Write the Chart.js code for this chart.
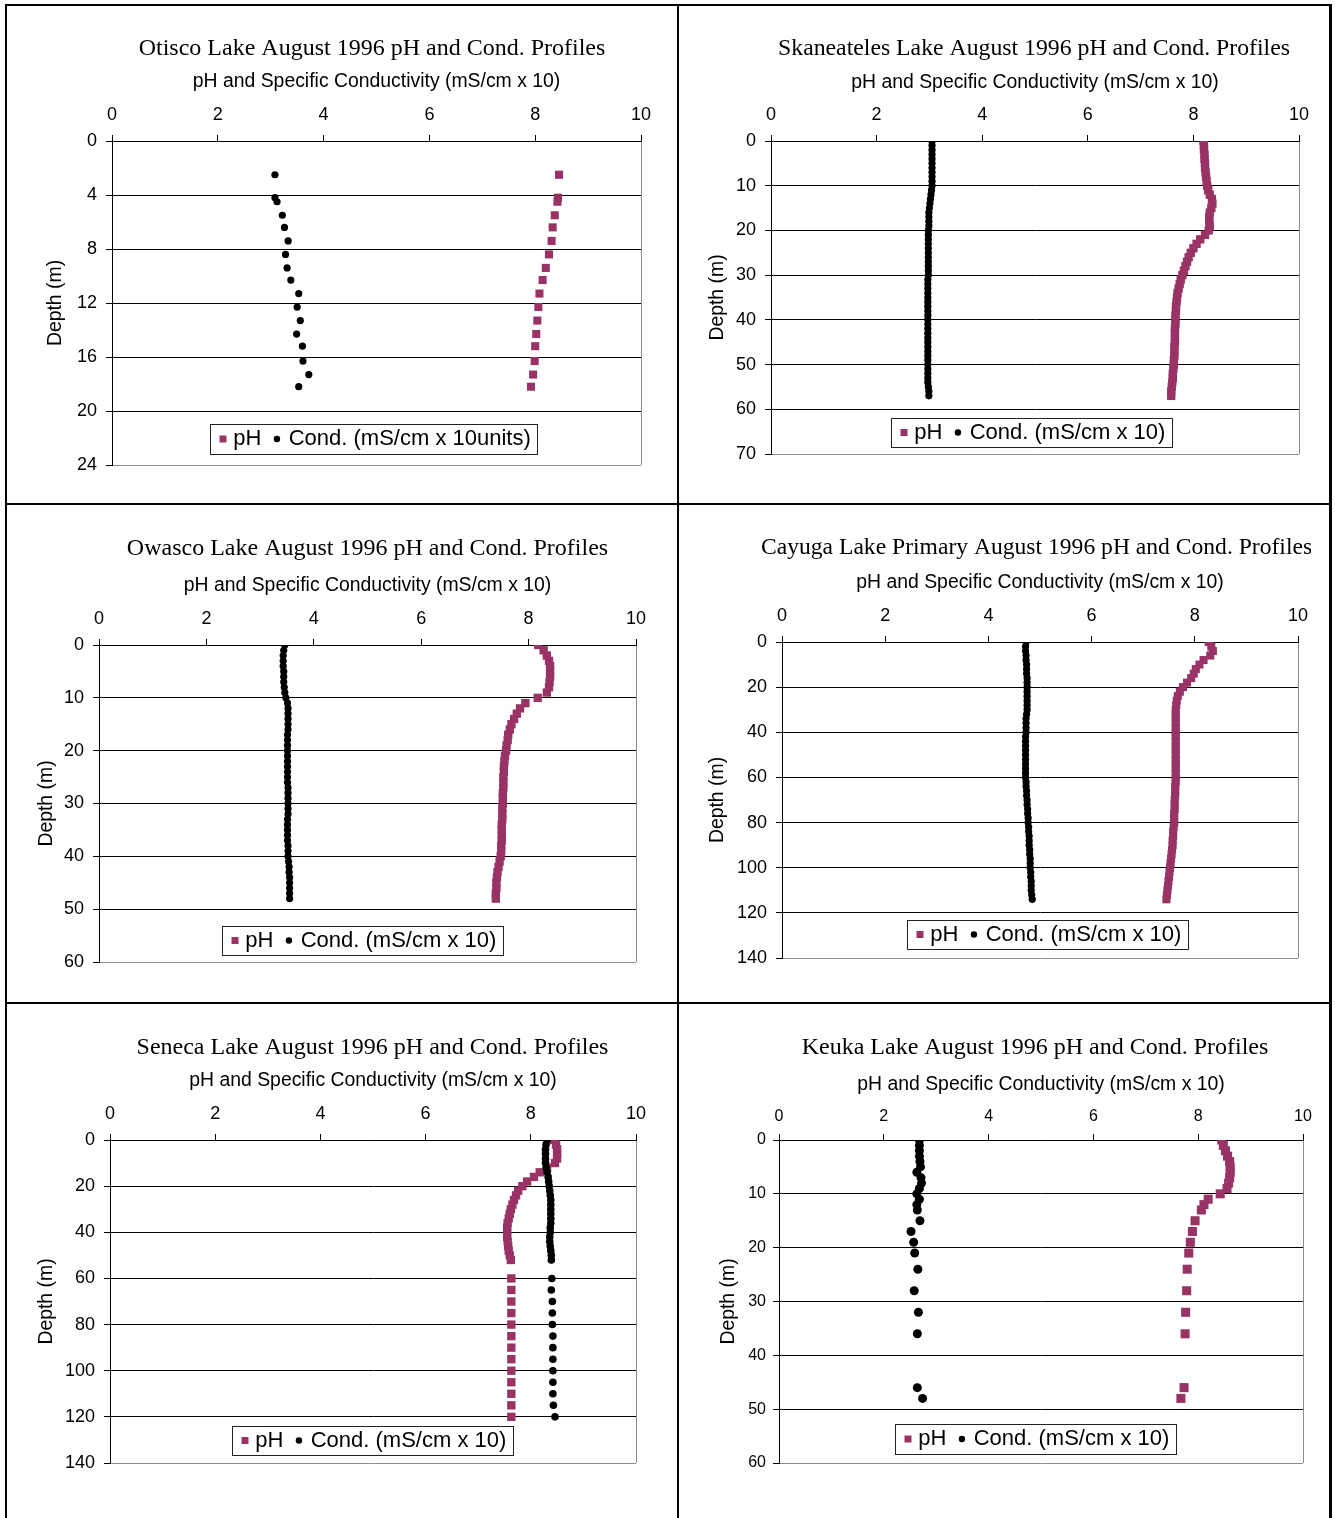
<!DOCTYPE html>
<html><head><meta charset="utf-8">
<script src="https://cdn.jsdelivr.net/npm/chart.js@4.4.1/dist/chart.umd.min.js"></script>
<style>
html,body{margin:0;padding:0;background:#fff;}
body{width:1335px;height:1518px;position:relative;overflow:hidden;}
.ln{position:absolute;background:#000;z-index:5;}
</style></head><body>
<div class="ln" style="left:5px;top:4px;width:1327px;height:2px"></div>
<div class="ln" style="left:5px;top:4px;width:2px;height:1514px"></div>
<div class="ln" style="left:677px;top:4px;width:2px;height:1514px"></div>
<div class="ln" style="left:1329px;top:4px;width:3px;height:1514px"></div>
<div class="ln" style="left:5px;top:503px;width:1327px;height:2px"></div>
<div class="ln" style="left:5px;top:1002px;width:1327px;height:2px"></div>
<script>
// ---------------- DATA ----------------
const chartTitles = [
  'Otisco Lake August 1996 pH and Cond. Profiles',
  'Skaneateles Lake August 1996 pH and Cond. Profiles',
  'Owasco Lake August 1996 pH and Cond. Profiles',
  'Cayuga Lake Primary August 1996 pH and Cond. Profiles',
  'Seneca Lake August 1996 pH and Cond. Profiles',
  'Keuka Lake August 1996 pH and Cond. Profiles'
];
const xAxisTitle = 'pH and Specific Conductivity (mS/cm x 10)';
const yAxisTitle = 'Depth (m)';
const phLabel = 'pH';
const condLabels = ['Cond. (mS/cm x 10units)', 'Cond. (mS/cm x 10)', 'Cond. (mS/cm x 10)', 'Cond. (mS/cm x 10)', 'Cond. (mS/cm x 10)', 'Cond. (mS/cm x 10)'];
const xTickValues = [0, 2, 4, 6, 8, 10];
const depthAxisMax = [24, 70, 60, 140, 140, 60];
const depthAxisStep = [4, 10, 10, 20, 20, 10];

const otiscoDepth = [2.5,4.2,4.5,5.5,6.4,7.4,8.4,9.4,10.3,11.3,12.3,13.3,14.3,15.2,16.3,17.3,18.2];
const otiscoPH   = [8.45,8.43,8.42,8.37,8.33,8.31,8.26,8.20,8.14,8.08,8.06,8.04,8.02,8.00,7.99,7.96,7.92];
const otiscoCond = [3.08,3.08,3.12,3.22,3.26,3.33,3.28,3.31,3.38,3.53,3.50,3.56,3.49,3.60,3.61,3.72,3.53];

const skanDepth = [0,1,2,3,4,5,6,7,8,9,10,11,12,13,14,15,16,17,18,19,20,21,22,23,24,25,26,27,28,29,30,31,32,33,34,35,36,37,38,39,40,41,42,43,44,45,46,47,48,49,50,51,52,53,54,55,56,57];
const skanPH = [8.19,8.20,8.20,8.21,8.21,8.22,8.22,8.23,8.24,8.25,
  8.26,8.28,8.31,8.35,8.36,8.34,8.31,8.30,8.30,8.31,
  8.29,8.22,8.13,8.06,8.00,7.95,7.91,7.88,7.85,7.82,
  7.79,7.76,7.74,7.72,7.70,7.69,7.68,7.67,7.67,7.66,
  7.66,7.66,7.65,7.65,7.65,7.65,7.64,7.64,7.64,7.63,
  7.63,7.62,7.61,7.61,7.60,7.59,7.58,7.58];
const skanCond = [3.05,3.05,3.05,3.05,3.05,3.05,3.05,3.05,3.05,3.05,
  3.05,3.04,3.03,3.02,3.01,3.00,2.99,2.99,2.99,2.99,
  2.98,2.98,2.98,2.98,2.98,2.98,2.98,2.98,2.98,2.98,
  2.98,2.97,2.97,2.97,2.97,2.97,2.97,2.97,2.97,2.97,
  2.97,2.97,2.97,2.97,2.97,2.97,2.97,2.97,2.97,2.97,
  2.97,2.97,2.97,2.97,2.97,2.98,2.99,2.99];

const owascoDepth = [0,1,2,3,4,5,6,7,8,9,10,11,12,13,14,15,16,17,18,19,20,21,22,23,24,25,26,27,28,29,30,31,32,33,34,35,36,37,38,39,40,41,42,43,44,45,46,47,48];
const owascoPH = [8.18,8.28,8.34,8.38,8.40,8.40,8.40,8.39,8.38,8.34,
  8.17,7.94,7.84,7.78,7.73,7.68,7.65,7.62,7.61,7.59,
  7.58,7.56,7.55,7.54,7.54,7.53,7.53,7.53,7.52,7.52,
  7.52,7.51,7.51,7.51,7.50,7.50,7.50,7.50,7.49,7.49,
  7.48,7.46,7.44,7.42,7.41,7.40,7.40,7.39,7.39];
const owascoCond = [3.46,3.44,3.43,3.43,3.43,3.44,3.44,3.44,3.45,3.46,
  3.48,3.51,3.52,3.52,3.52,3.52,3.52,3.51,3.51,3.51,
  3.51,3.51,3.51,3.51,3.51,3.51,3.51,3.52,3.52,3.52,
  3.52,3.52,3.52,3.51,3.51,3.51,3.51,3.51,3.52,3.52,
  3.52,3.53,3.54,3.54,3.55,3.55,3.55,3.55,3.55];

const cayugaDepth = [0,2,4,6,8,10,12,14,16,18,20,22,24,26,28,30,32,34,36,38,40,42,44,46,48,50,52,54,56,58,60,62,64,66,68,70,72,74,76,78,80,82,84,86,88,90,92,94,96,98,100,102,104,106,108,110,112,114];
const cayugaPH = [8.27,8.32,8.35,8.30,8.17,8.09,8.02,7.98,7.93,7.85,
  7.77,7.71,7.67,7.65,7.64,7.63,7.63,7.63,7.63,7.63,
  7.63,7.63,7.63,7.63,7.63,7.63,7.63,7.63,7.63,7.63,
  7.63,7.63,7.62,7.62,7.62,7.61,7.61,7.61,7.60,7.60,
  7.60,7.59,7.58,7.58,7.57,7.57,7.56,7.55,7.54,7.53,
  7.52,7.51,7.50,7.49,7.48,7.47,7.46,7.45];
const cayugaCond = [4.73,4.72,4.72,4.73,4.73,4.74,4.74,4.74,4.75,4.75,
  4.75,4.75,4.75,4.75,4.75,4.75,4.74,4.73,4.73,4.73,
  4.73,4.72,4.72,4.72,4.72,4.72,4.72,4.72,4.72,4.72,
  4.72,4.73,4.73,4.74,4.74,4.75,4.75,4.76,4.76,4.77,
  4.77,4.78,4.78,4.79,4.79,4.79,4.80,4.80,4.81,4.81,
  4.81,4.82,4.82,4.83,4.83,4.83,4.84,4.85];

const senecaDepth = [0,2,4,6,8,10,12,14,16,18,20,22,24,26,28,30,32,34,36,38,40,42,44,46,48,50,52,60,65,70,75,80,85,90,95,100,105,110,115,120];
const senecaPH = [8.44,8.48,8.50,8.50,8.50,8.46,8.31,8.17,8.06,7.93,
  7.84,7.76,7.72,7.68,7.65,7.62,7.60,7.58,7.56,7.55,
  7.55,7.55,7.56,7.57,7.58,7.60,7.62,
  7.63,7.63,7.63,7.63,7.63,7.63,7.63,7.63,7.63,7.63,7.63,7.63,7.63];
const senecaCond = [8.31,8.29,8.28,8.28,8.28,8.28,8.29,8.31,8.33,8.34,
  8.35,8.36,8.37,8.38,8.38,8.38,8.38,8.38,8.38,8.37,
  8.37,8.36,8.36,8.37,8.38,8.39,8.39,
  8.40,8.39,8.41,8.41,8.41,8.42,8.42,8.42,8.42,8.42,8.42,8.43,8.46];

const keukaDepth = [0,1,2,3,4,5,6,7,8,9,10,11,12,13,15,17,19,21,24,28,32,36,46,48];
const keukaPH = [8.45,8.48,8.52,8.56,8.60,8.61,8.61,8.60,8.58,8.55,8.42,8.19,8.11,8.06,7.94,7.89,7.85,7.82,7.79,7.78,7.76,7.75,7.73,7.67];
const keukaCond = [2.68,2.68,2.68,2.68,2.69,2.70,2.63,2.71,2.72,2.68,2.63,2.68,2.63,2.64,2.69,2.52,2.57,2.59,2.65,2.58,2.66,2.64,2.64,2.74];

const depthSeries = [otiscoDepth, skanDepth, owascoDepth, cayugaDepth, senecaDepth, keukaDepth];
const phSeries = [otiscoPH, skanPH, owascoPH, cayugaPH, senecaPH, keukaPH];
const condSeries = [otiscoCond, skanCond, owascoCond, cayugaCond, senecaCond, keukaCond];

// ---------------- LAYOUT / STYLE ----------------
const PH_COLOR = '#993366';
const SANS = '"Liberation Sans", Arial, sans-serif';
const SERIF = '"Liberation Serif", "Times New Roman", serif';
const layouts = [
  {cell:{x:7,y:6,w:670,h:497}, plot:{l:112,t:141,r:641,b:465}, titleX:372, titleBase:55, titleSize:24, align:'center', clip:null, xTitleY:82, yTitleX:56, leg:{x:210,y:424,h:30}, sq:5.7, dot:3.6, tick:18},
  {cell:{x:679,y:6,w:650,h:497}, plot:{l:771,t:141,r:1299,b:454}, titleX:1034, titleBase:55, titleSize:23.75, align:'center', clip:null, xTitleY:83, yTitleX:718, leg:{x:891,y:418,h:29}, sq:5.9, dot:3.6, tick:18},
  {cell:{x:7,y:505,w:670,h:497}, plot:{l:99,t:645,r:636,b:962}, titleX:367.5, titleBase:555, titleSize:24, align:'center', clip:null, xTitleY:586, yTitleX:47, leg:{x:222,y:926,h:29}, sq:5.9, dot:3.6, tick:18},
  {cell:{x:679,y:505,w:650,h:497}, plot:{l:782,t:642,r:1298,b:958}, titleX:761, titleBase:554, titleSize:23.6, align:'left', clip:1311, xTitleY:583, yTitleX:718, leg:{x:907,y:920,h:29}, sq:5.7, dot:3.6, tick:18},
  {cell:{x:7,y:1004,w:670,h:514}, plot:{l:110,t:1140,r:636,b:1463}, titleX:372.5, titleBase:1054, titleSize:24, align:'center', clip:null, xTitleY:1081, yTitleX:47, leg:{x:232,y:1426,h:29}, sq:5.9, dot:3.8, tick:18},
  {cell:{x:679,y:1004,w:650,h:514}, plot:{l:779,t:1140,r:1303,b:1463}, titleX:1035, titleBase:1054, titleSize:24, align:'center', clip:null, xTitleY:1085, yTitleX:729, leg:{x:895,y:1424,h:30}, sq:6.4, dot:4.5, tick:16}
];

const decor = {
  id: 'panelDecor',
  afterDraw(chart, args, o) {
    const ctx = chart.ctx;
    // chart title
    ctx.save();
    if (o.clip != null) { ctx.beginPath(); ctx.rect(0, 0, o.clip, chart.height); ctx.clip(); }
    ctx.font = o.titleSize + 'px ' + SERIF;
    ctx.fillStyle = '#000';
    ctx.textBaseline = 'alphabetic';
    ctx.textAlign = o.align;
    ctx.fillText(o.title, o.titleX, o.titleBase);
    ctx.restore();
    // legend box
    ctx.save();
    const ds = chart.data.datasets;
    ctx.font = '22px ' + SANS;
    const w0 = ctx.measureText(ds[0].label).width;
    const w1 = ctx.measureText(ds[1].label).width;
    const lx = o.leg.x, ly = o.leg.y, lh = o.leg.h, cy = ly + lh / 2;
    const boxW = 23.3 + w0 + 15.5 + 11.8 + w1 + 6.7;
    ctx.fillStyle = '#fff';
    ctx.fillRect(lx, ly, boxW, lh);
    ctx.strokeStyle = '#222';
    ctx.lineWidth = 1;
    ctx.strokeRect(Math.round(lx) + 0.5, Math.round(ly) + 0.5, Math.round(boxW), lh);
    ctx.fillStyle = ds[0].backgroundColor;
    ctx.fillRect(lx + 13 - 3.5, cy - 3.5, 7, 7);
    ctx.fillStyle = '#000';
    ctx.textBaseline = 'middle';
    ctx.textAlign = 'left';
    let x = lx + 23.3;
    ctx.fillText(ds[0].label, x, cy);
    x += w0 + 15.5;
    ctx.beginPath();
    ctx.arc(x, cy, 3.2, 0, Math.PI * 2);
    ctx.fillStyle = ds[1].backgroundColor;
    ctx.fill();
    x += 11.8;
    ctx.fillStyle = '#000';
    ctx.fillText(ds[1].label, x, cy);
    ctx.restore();
  }
};

function makePanel(i) {
  const L = layouts[i];
  const cx = L.cell.x, cy = L.cell.y;
  const wrap = document.createElement('div');
  wrap.style.cssText = `position:absolute;left:${cx}px;top:${cy}px;width:${L.cell.w}px;height:${L.cell.h}px;`;
  const cv = document.createElement('canvas');
  cv.width = L.cell.w; cv.height = L.cell.h;
  cv.style.width = L.cell.w + 'px'; cv.style.height = L.cell.h + 'px';
  wrap.appendChild(cv);
  document.body.appendChild(wrap);

  const titleSize = 19.4, lh = titleSize * 1.2;
  const padTop = L.xTitleY - cy - lh / 2;
  const padLeft = L.yTitleX - cx - lh / 2;
  const hx = (L.plot.t - cy) - padTop;
  const wy = (L.plot.l - cx) - padLeft;
  const padRight = cx + L.cell.w - L.plot.r;
  const padBottom = cy + L.cell.h - L.plot.b;
  const yMax = depthAxisMax[i];
  const depth = depthSeries[i], ph = phSeries[i], cond = condSeries[i];

  new Chart(cv, {
    type: 'scatter',
    data: {
      datasets: [
        { label: phLabel, data: depth.map((d, k) => ({ x: ph[k], y: d })), pointStyle: 'rect',
          pointRadius: L.sq, pointHoverRadius: L.sq, backgroundColor: PH_COLOR, borderWidth: 0, order: 1 },
        { label: condLabels[i], data: depth.map((d, k) => ({ x: cond[k], y: d })), pointStyle: 'circle',
          pointRadius: L.dot, pointHoverRadius: L.dot, backgroundColor: '#000', borderWidth: 0, order: 0 }
      ]
    },
    options: {
      responsive: false, animation: false, devicePixelRatio: 1, events: [],
      layout: { padding: { left: padLeft, top: padTop, right: padRight, bottom: padBottom } },
      plugins: {
        legend: { display: false }, tooltip: { enabled: false }, title: { display: false },
        panelDecor: {
          title: chartTitles[i], titleX: L.titleX - cx, titleBase: L.titleBase - cy, titleSize: L.titleSize, align: L.align,
          clip: L.clip == null ? null : L.clip - cx,
          leg: { x: L.leg.x - cx, y: L.leg.y - cy, h: L.leg.h }
        }
      },
      scales: {
        x: {
          type: 'linear', position: 'top', min: xTickValues[0], max: xTickValues[xTickValues.length - 1],
          afterBuildTicks: s => { s.ticks = xTickValues.map(v => ({ value: v })); },
          ticks: { color: '#000', font: { family: SANS, size: L.tick }, padding: L.tick === 16 ? 8 : 9.5, maxRotation: 0, autoSkip: false },
          grid: { drawOnChartArea: true, color: c => (c.tick && c.tick.value === 10) ? '#8c8c8c' : 'rgba(0,0,0,0)',
                  tickColor: '#000', tickLength: 6, lineWidth: 1 },
          border: { color: '#000', width: 1 },
          title: { display: true, text: xAxisTitle, color: '#000', font: { family: SANS, size: titleSize }, padding: 0 },
          afterFit: s => { s.height = hx; }
        },
        y: {
          type: 'linear', position: 'left', reverse: true, min: 0, max: yMax,
          ticks: { stepSize: depthAxisStep[i], color: '#000', font: { family: SANS, size: L.tick }, padding: L.tick === 16 ? 7 : 9, autoSkip: false },
          grid: { color: c => (c.tick && c.tick.value === yMax) ? '#8c8c8c' : '#000', tickColor: '#000', tickLength: 6, lineWidth: 1 },
          border: { color: '#000', width: 1 },
          title: { display: true, text: yAxisTitle, color: '#000', font: { family: SANS, size: titleSize }, padding: 0 },
          afterFit: s => { s.width = wy; }
        }
      }
    },
    plugins: [decor]
  });
}

for (let i = 0; i < 6; i++) makePanel(i);
</script>
</body></html>
